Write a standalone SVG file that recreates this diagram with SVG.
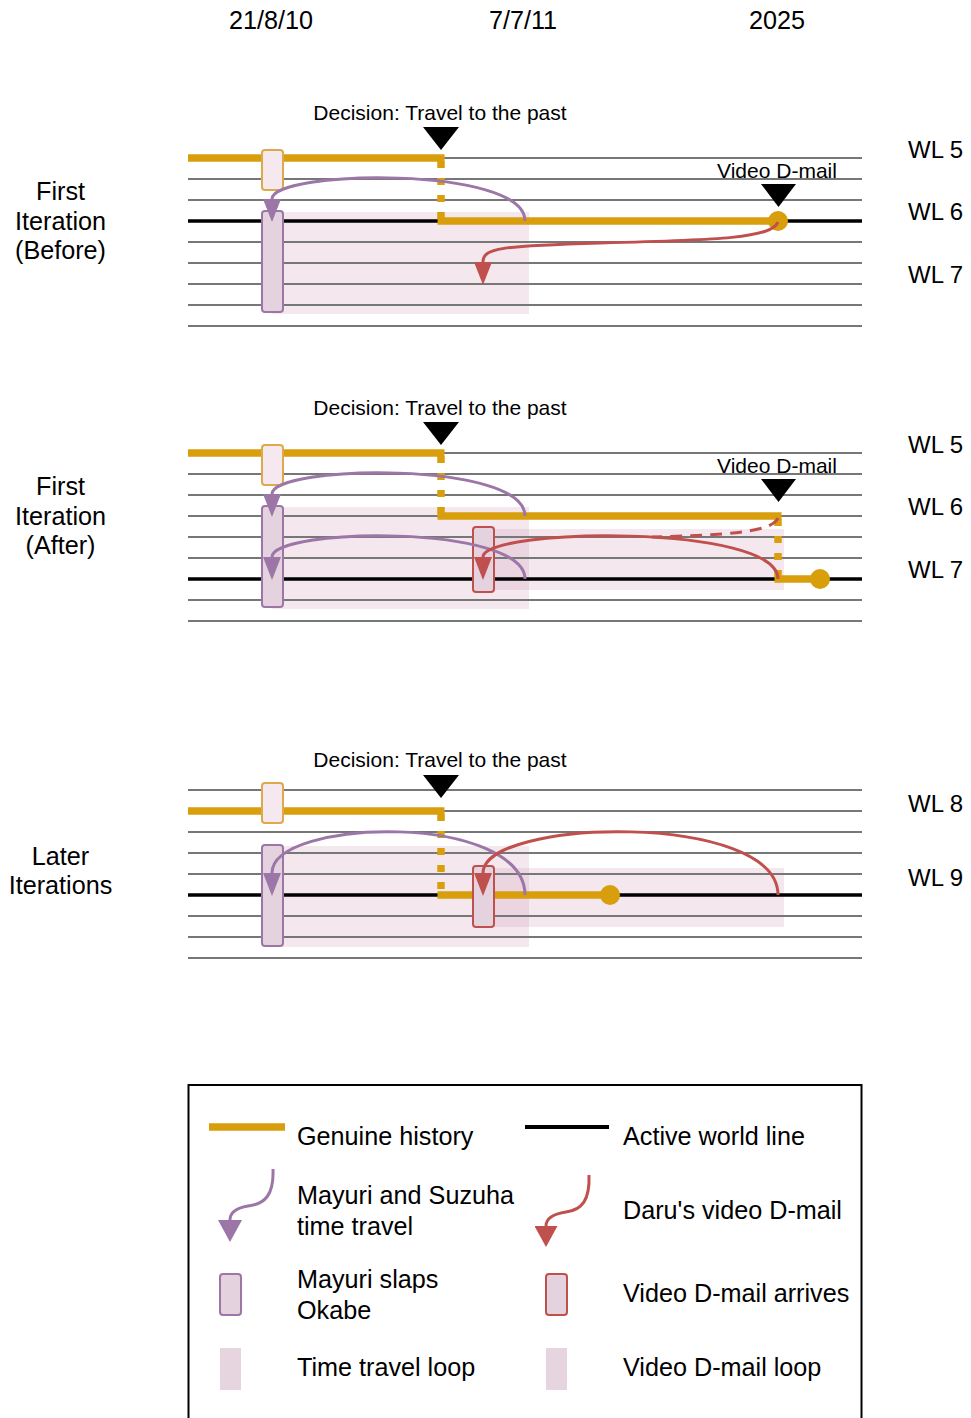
<svg xmlns="http://www.w3.org/2000/svg" width="971" height="1418" viewBox="0 0 971 1418">
<style>
.wl{stroke:#777;stroke-width:2;fill:none}
.act{stroke:#000;stroke-width:3.5;fill:none}
.hist{stroke:#d99e0b;stroke-width:7.5;fill:none}
.histd{stroke:#d99e0b;stroke-width:7.5;fill:none;stroke-dasharray:7 10}
.loop{fill:#c88aab;fill-opacity:0.2}
.obox{fill:#f5e9ef;stroke:#dcaa4c;stroke-width:2}
.pbox{fill:#e4d3de;stroke:#9b76a7;stroke-width:2}
.rbox{fill:#e4d3de;stroke:#c0504d;stroke-width:2}
.parc{stroke:#9b76a7;stroke-width:3;fill:none;marker-end:url(#ap)}
.rarc{stroke:#c0504d;stroke-width:3;fill:none;marker-end:url(#ar)}
.rdash{stroke:#c0504d;stroke-width:3;fill:none;stroke-dasharray:12 8}
.dot{fill:#d99e0b}
.tri{fill:#000}
text{font-family:"Liberation Sans",Arial,sans-serif;fill:#000}
.big{font-size:25.2px}
.wlt{font-size:24px}
.ann{font-size:21px}
.mid{text-anchor:middle}
</style>
<defs>
<marker id="ap" markerUnits="userSpaceOnUse" markerWidth="23" markerHeight="18" viewBox="0 0 23 18" refX="0" refY="9" orient="auto"><path d="M0,0 L23,9 L0,18 Z" fill="#9b76a7"/></marker>
<marker id="ar" markerUnits="userSpaceOnUse" markerWidth="23" markerHeight="18" viewBox="0 0 23 18" refX="0" refY="9" orient="auto"><path d="M0,0 L23,9 L0,18 Z" fill="#c0504d"/></marker>
<marker id="apL" markerUnits="userSpaceOnUse" markerWidth="22" markerHeight="24" viewBox="0 0 22 24" refX="0" refY="12" orient="auto"><path d="M0,0 L22,12 L0,24 Z" fill="#9b76a7"/></marker>
<marker id="arL" markerUnits="userSpaceOnUse" markerWidth="21" markerHeight="23" viewBox="0 0 21 23" refX="0" refY="11.5" orient="auto"><path d="M0,0 L21,11.5 L0,23 Z" fill="#c0504d"/></marker>
</defs>
<rect width="971" height="1418" fill="#fff"/>

<g id="headers">
<text class="big mid" x="271" y="29">21/8/10</text>
<text class="big mid" x="523" y="29">7/7/11</text>
<text class="big mid" x="777" y="29">2025</text>
</g>

<!-- Panel 1 -->
<g id="panel1">
<g id="p1-loops">
<rect class="loop" x="272" y="212" width="257" height="102"/>
</g>
<g id="p1-worldlines">
<path class="wl" d="M441,158H862 M188,179H862 M188,200H862 M188,242H862 M188,263H862 M188,284H862 M188,305H862 M188,326H862"/>
<path class="act" d="M188,221H862"/>
</g>
<g id="p1-history">
<path class="hist" d="M188,158H444.5"/>
<path class="histd" d="M441,161V221"/>
<path class="hist" d="M437.5,221H778"/>
</g>
<g id="p1-orange-box"><rect class="obox" x="262" y="150" width="21" height="40" rx="3"/></g>
<g id="p1-slap"><rect class="pbox" x="262" y="211" width="21" height="101" rx="3"/></g>
<g id="p1-dot"><circle class="dot" cx="778" cy="221" r="10"/></g>
<g id="p1-connectors">
<path class="parc" d="M525,221 C525,165 272,170 272,199"/>
<path class="rarc" d="M778,222 C772,238 720,240 600,243 C500,246 483,248 483,262"/>
</g>
<g id="p1-decision"><path class="tri" d="M423,127H459L441,150Z"/><text class="ann mid" x="440" y="120">Decision: Travel to the past</text></g>
<g id="p1-vdmail"><path class="tri" d="M761,184H796L778.5,207Z"/><text class="ann mid" x="777" y="178">Video D-mail</text></g>
<g id="p1-labels">
<text class="big mid" x="60.5" y="200">First</text>
<text class="big mid" x="60.5" y="230">Iteration</text>
<text class="big mid" x="60.5" y="259">(Before)</text>
<text class="wlt" x="908" y="158">WL 5</text>
<text class="wlt" x="908" y="220">WL 6</text>
<text class="wlt" x="908" y="283">WL 7</text>
</g>
</g>

<!-- Panel 2 -->
<g id="panel2">
<g id="p2-loops">
<rect class="loop" x="272" y="507" width="257" height="102"/>
<rect class="loop" x="483" y="529" width="301" height="61"/>
</g>
<g id="p2-worldlines">
<path class="wl" d="M441,453H862 M188,474H862 M188,495H862 M188,516H862 M188,537H862 M188,558H862 M188,600H862 M188,621H862"/>
<path class="act" d="M188,579H862"/>
</g>
<g id="p2-history">
<path class="hist" d="M188,453H444.5"/>
<path class="histd" d="M441,456V516"/>
<path class="hist" d="M437.5,516H781.5"/>
<path class="histd" d="M778,519V579"/>
<path class="hist" d="M774.5,579H820"/>
</g>
<g id="p2-orange-box"><rect class="obox" x="262" y="445" width="21" height="40" rx="3"/></g>
<g id="p2-slap"><rect class="pbox" x="262" y="506" width="21" height="101" rx="3"/></g>
<g id="p2-arrive"><rect class="rbox" x="473" y="527" width="21" height="65" rx="3"/></g>
<g id="p2-dot"><circle class="dot" cx="820" cy="579" r="10"/></g>
<g id="p2-connectors">
<path class="parc" d="M525,516 C525,460 272,465 272,494"/>
<path class="parc" d="M525,579 C525,523 272,528 272,557"/>
<path class="rdash" d="M778,518 C772,533 720,535 652,537"/>
<path class="rarc" d="M778,579 C778,523 483,528 483,557"/>
</g>
<g id="p2-decision"><path class="tri" d="M423,422H459L441,445Z"/><text class="ann mid" x="440" y="415">Decision: Travel to the past</text></g>
<g id="p2-vdmail"><path class="tri" d="M761,479H796L778.5,502Z"/><text class="ann mid" x="777" y="473">Video D-mail</text></g>
<g id="p2-labels">
<text class="big mid" x="60.5" y="495">First</text>
<text class="big mid" x="60.5" y="525">Iteration</text>
<text class="big mid" x="60.5" y="554">(After)</text>
<text class="wlt" x="908" y="453">WL 5</text>
<text class="wlt" x="908" y="515">WL 6</text>
<text class="wlt" x="908" y="578">WL 7</text>
</g>
</g>

<!-- Panel 3 -->
<g id="panel3">
<g id="p3-loops">
<rect class="loop" x="272" y="846" width="257" height="101"/>
<rect class="loop" x="483" y="868" width="301" height="59"/>
</g>
<g id="p3-worldlines">
<path class="wl" d="M188,790H862 M441,811H862 M188,832H862 M188,853H862 M188,874H862 M188,916H862 M188,937H862 M188,958H862"/>
<path class="act" d="M188,895H862"/>
</g>
<g id="p3-history">
<path class="hist" d="M188,811H444.5"/>
<path class="histd" d="M441,814V895"/>
<path class="hist" d="M437.5,895H610"/>
</g>
<g id="p3-orange-box"><rect class="obox" x="262" y="783" width="21" height="40" rx="3"/></g>
<g id="p3-slap"><rect class="pbox" x="262" y="845" width="21" height="101" rx="3"/></g>
<g id="p3-arrive"><rect class="rbox" x="473" y="866" width="21" height="61" rx="3"/></g>
<g id="p3-dot"><circle class="dot" cx="610" cy="895" r="10"/></g>
<g id="p3-connectors">
<path class="parc" d="M525,895 C525,811 272,818 272,873"/>
<path class="rarc" d="M778,895 C778,811 483,818 483,873"/>
</g>
<g id="p3-decision"><path class="tri" d="M423,775H459L441,798Z"/><text class="ann mid" x="440" y="767">Decision: Travel to the past</text></g>
<g id="p3-labels">
<text class="big mid" x="60.5" y="865">Later</text>
<text class="big mid" x="60.5" y="894">Iterations</text>
<text class="wlt" x="908" y="812">WL 8</text>
<text class="wlt" x="908" y="886">WL 9</text>
</g>
</g>

<!-- Legend -->
<g id="legend">
<rect x="188.5" y="1085" width="673" height="400" fill="none" stroke="#000" stroke-width="2"/>
<g id="lg-genuine"><path class="hist" d="M209,1127H285"/><text class="big" x="297" y="1145">Genuine history</text></g>
<g id="lg-active"><path d="M525,1127H609" stroke="#000" stroke-width="4"/><text class="big" x="623" y="1145">Active world line</text></g>
<g id="lg-travel"><path d="M273,1169 C274,1195 265,1204 248,1206 C236,1208 230,1213 230,1220" stroke="#9b76a7" stroke-width="3" fill="none" marker-end="url(#apL)"/>
<text class="big" x="297" y="1204">Mayuri and Suzuha</text><text class="big" x="297" y="1235">time travel</text></g>
<g id="lg-dmail"><path d="M589,1175 C590,1200 582,1210 566,1212 C553,1214 546,1219 546,1226" stroke="#c0504d" stroke-width="3" fill="none" marker-end="url(#arL)"/>
<text class="big" x="623" y="1219">Daru's video D-mail</text></g>
<g id="lg-slap"><rect class="pbox" x="220" y="1274" width="21" height="41" rx="3"/><text class="big" x="297" y="1288">Mayuri slaps</text><text class="big" x="297" y="1319">Okabe</text></g>
<g id="lg-arrive"><rect class="rbox" x="546" y="1274" width="21" height="41" rx="3"/><text class="big" x="623" y="1302">Video D-mail arrives</text></g>
<g id="lg-ttloop"><rect x="220" y="1348" width="21" height="42" fill="#e6d4de"/><text class="big" x="297" y="1376">Time travel loop</text></g>
<g id="lg-vdloop"><rect x="546" y="1348" width="21" height="42" fill="#e6d4de"/><text class="big" x="623" y="1376">Video D-mail loop</text></g>
</g>
</svg>
